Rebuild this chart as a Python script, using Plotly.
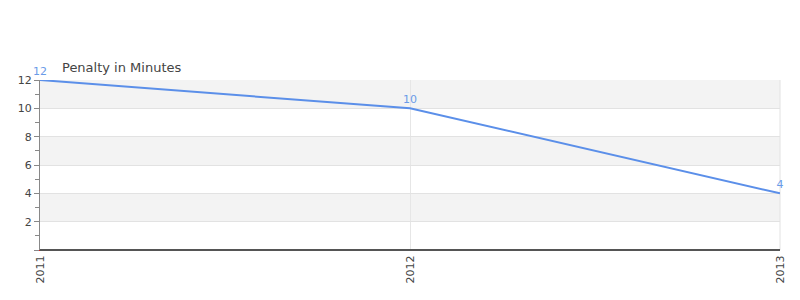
import plotly.graph_objects as go

years = ["2011", "2012", "2013"]
penalty = [12, 10, 4]
y_ticks = [0, 2, 4, 6, 8, 10, 12]
y_tick_text = ["", "2", "4", "6", "8", "10", "12"]
bands = [(2, 4), (6, 8), (10, 12)]

x_pos = list(range(len(years)))

fig = go.Figure()
fig.add_trace(go.Scatter(
    x=x_pos, y=penalty, mode="lines+markers+text",
    text=[str(v) for v in penalty], textposition="top center",
    textfont=dict(color="#6a9be8", size=11, family="DejaVu Sans"),
    line=dict(color="#5b8fe9", width=2),
    marker=dict(size=2, color="rgba(0,0,0,0)"),
    cliponaxis=False, showlegend=False, hoverinfo="skip",
))

shapes = []
for lo, hi in bands:
    shapes.append(dict(type="rect", xref="paper", yref="y", x0=0, x1=1, y0=lo, y1=hi,
                       fillcolor="#f3f3f3", line=dict(width=0), layer="below"))
shapes.append(dict(type="line", xref="paper", yref="paper", x0=1, x1=1, y0=0, y1=1,
                   line=dict(color="#e2e2e2", width=1), layer="below"))
shapes.append(dict(type="line", xref="paper", yref="paper", x0=0, x1=1, y0=0, y1=0,
                   line=dict(color="#555", width=2), layer="above"))
fig.update_layout(shapes=shapes)

fig.update_layout(
    width=800, height=300,
    margin=dict(l=40, r=20, t=80, b=50),
    paper_bgcolor="white", plot_bgcolor="white",
    font=dict(family="DejaVu Sans", color="#444", size=11),
    annotations=[dict(text="Penalty in Minutes", xref="paper", yref="paper",
                      x=0.027, y=1.02, xanchor="left", yanchor="bottom", showarrow=False,
                      font=dict(size=13, color="#444"))],
)
fig.update_xaxes(
    range=[0, len(years) - 1], tickvals=x_pos, ticktext=years, tickangle=-90,
    showgrid=True, gridcolor="#e6e6e6", zeroline=False,
    showline=True, linecolor="#d62020", linewidth=1, ticks="", mirror=False,
    tickfont=dict(size=11, color="#444"),
)
fig.update_yaxes(
    range=[0, 12], tickvals=y_ticks, ticktext=y_tick_text,
    showgrid=True, gridcolor="#e2e2e2", zeroline=False,
    showline=True, linecolor="#888", linewidth=1,
    ticks="outside", ticklen=5, tickcolor="#888",
    minor=dict(dtick=1, ticks="outside", ticklen=4, tickcolor="#888", showgrid=False),
    tickfont=dict(size=11, color="#444"),
)
fig.write_html("out.html")
